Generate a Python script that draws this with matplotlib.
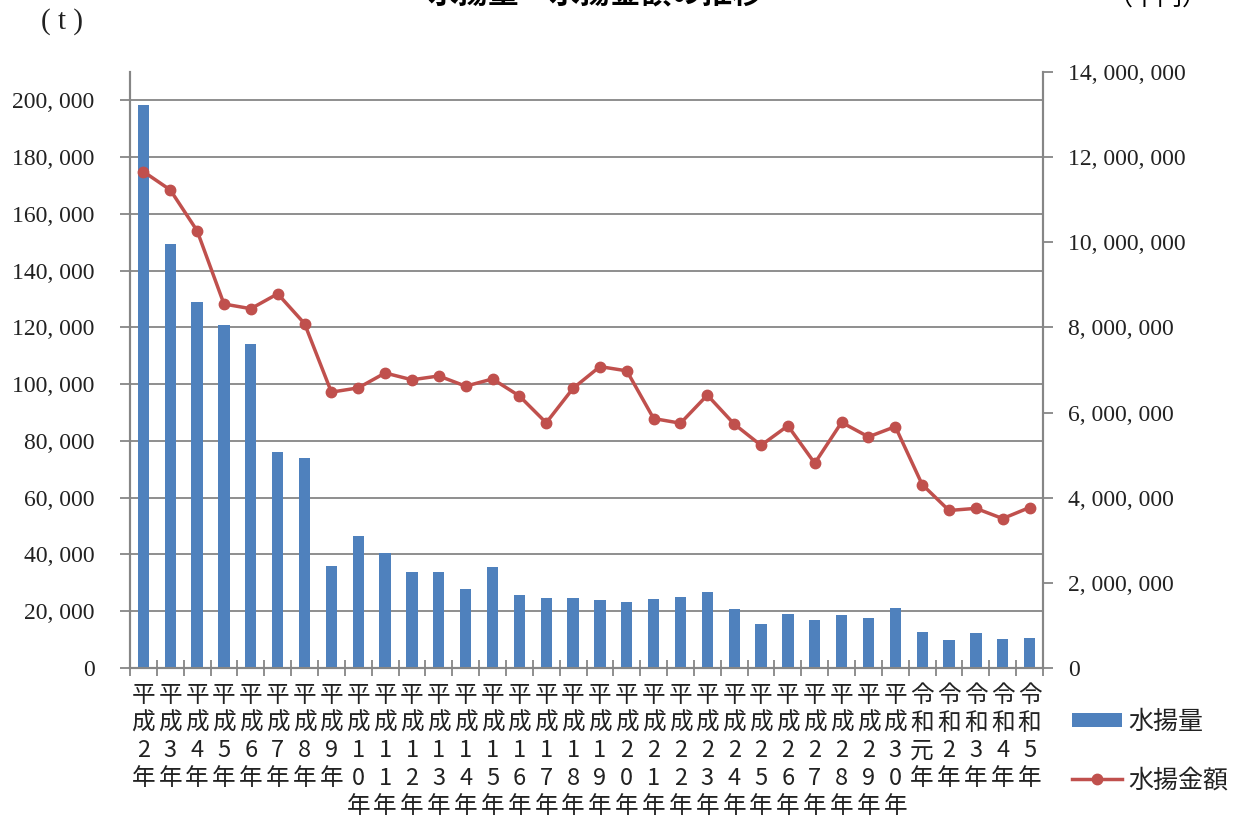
import matplotlib
matplotlib.use("Agg")
import matplotlib.pyplot as plt
from matplotlib.patches import Patch
from matplotlib.lines import Line2D
from matplotlib.ticker import FixedLocator, FuncFormatter
import numpy as np

plt.rcParams['font.family'] = ['Noto Sans CJK JP', 'DejaVu Sans']

# ---- data ----
years = ["平成2年", "平成3年", "平成4年", "平成5年", "平成6年", "平成7年", "平成8年", "平成9年",
         "平成10年", "平成11年", "平成12年", "平成13年", "平成14年", "平成15年", "平成16年",
         "平成17年", "平成18年", "平成19年", "平成20年", "平成21年", "平成22年", "平成23年",
         "平成24年", "平成25年", "平成26年", "平成27年", "平成28年", "平成29年", "平成30年",
         "令和元年", "令和2年", "令和3年", "令和4年", "令和5年"]
volume_t = [198200, 149300, 128900, 120800, 114100, 76100, 73900, 35900,
            46500, 40500, 33800, 34000, 27800, 35600, 25700,
            24600, 24500, 23900, 23100, 24200, 24900, 26800,
            20700, 15600, 19200, 16900, 18800, 17500, 21000,
            12600, 9700, 12200, 10200, 10600]
value_kyen = [11660000, 11230000, 10270000, 8550000, 8440000, 8790000, 8090000, 6480000,
              6580000, 6930000, 6770000, 6860000, 6620000, 6790000, 6390000,
              5760000, 6570000, 7080000, 6980000, 5860000, 5750000, 6410000,
              5730000, 5230000, 5690000, 4810000, 5770000, 5430000, 5670000,
              4310000, 3700000, 3750000, 3510000, 3770000]
left_ticks = list(range(0, 200001, 20000))
right_ticks = list(range(0, 14000001, 2000000))

title = "水揚量・水揚金額の推移"
series_names = ["水揚量", "水揚金額"]

# ---- style ----
BLUE = "#4F81BD"
RED = "#C0504D"
GRAY = "#868686"
SERIF = ['Liberation Serif', 'Noto Sans CJK JP']

fig = plt.figure(figsize=(12.36, 8.30), dpi=100)
ax = fig.add_axes([130/1236, 1-668/830, (1043-130)/1236, (668-72)/830])
ax2 = ax.twinx()

x = np.arange(len(years))
ax.bar(x, volume_t, width=0.42, color=BLUE, zorder=3)
ax2.plot(x, value_kyen, color=RED, lw=2.5, marker='o', markersize=7.5, zorder=4)

ax.set_xlim(-0.5, len(years) - 0.5)
ax.set_ylim(0, 210000)
ax2.set_ylim(0, 14000000)

ax.yaxis.set_major_locator(FixedLocator(left_ticks))
ax2.yaxis.set_major_locator(FixedLocator(right_ticks))
fmt = FuncFormatter(lambda v, p: f"{int(v):,}".replace(",", ", "))
ax.yaxis.set_major_formatter(fmt)
ax2.yaxis.set_major_formatter(fmt)

ax.grid(axis='y', color=GRAY, lw=1.3, zorder=0)
ax.set_axisbelow(True)

for a in (ax, ax2):
    a.spines['top'].set_visible(False)
    for s in ('left', 'right', 'bottom'):
        a.spines[s].set_color(GRAY)
        a.spines[s].set_linewidth(1.5)

ax.tick_params(axis='y', length=7, width=1.3, color=GRAY, pad=18.5, labelsize=17)
ax2.tick_params(axis='y', length=7, width=1.3, color=GRAY, pad=11, labelsize=17)
for lab in ax.get_yticklabels() + ax2.get_yticklabels():
    lab.set_fontfamily(SERIF)
    lab.set_color('#222222')

# x ticks at category boundaries, labels vertical stacked
ax.set_xticks(np.arange(-0.5, len(years), 1.0))
ax.set_xticklabels([])
ax.tick_params(axis='x', direction='inout', length=12, width=1.3, color=GRAY)
for i, y in enumerate(years):
    ax.text(i, -0.027, "\n".join(list(y)), transform=ax.get_xaxis_transform(),
            ha='center', va='top', fontsize=17, linespacing=1.26, color='#222222',
            multialignment='center')

# titles / unit labels
fig.text(595/1236, 1 + 7/830, title, ha='center', va='center', fontsize=22, fontweight='bold')
fig.text(62/1236, 1 - 22/830, "( t )", ha='center', va='center', fontsize=21,
         family=SERIF, color='#222222')
fig.text(1158/1236, 1 + 2/830, "（千円）", ha='center', va='center', fontsize=18)

handles = [Patch(facecolor=BLUE, edgecolor='none'),
           Line2D([0], [0], color=RED, lw=2.5, marker='o', markersize=7.5)]
leg = fig.legend(handles, series_names, loc='center left',
                 bbox_to_anchor=(1072/1236, 1 - 751/830), frameon=False,
                 fontsize=18, handlelength=2.0, handleheight=0.45,
                 labelspacing=1.3, handletextpad=0.25, borderpad=0, borderaxespad=0)
for t in leg.get_texts():
    t.set_color('#222222')

fig.savefig("out.png", dpi=100)
